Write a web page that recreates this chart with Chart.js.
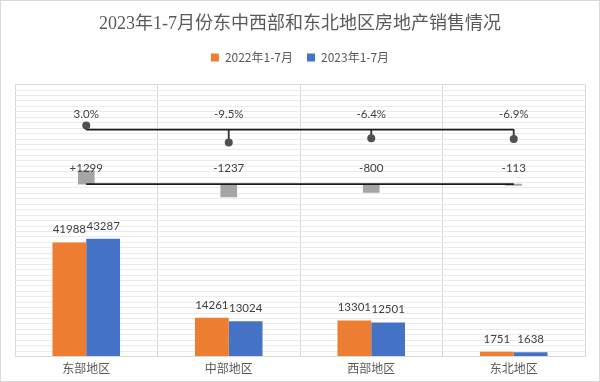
<!DOCTYPE html>
<html>
<head>
<meta charset="utf-8">
<script src="https://cdn.jsdelivr.net/npm/chart.js@4.4.1/dist/chart.umd.min.js"></script>
<style>
  html, body { margin: 0; padding: 0; background: #fff; }
  #wrap { width: 600px; height: 382px; position: relative; }
</style>
</head>
<body>
<div id="wrap"><canvas id="c" width="600" height="382"></canvas></div>
<script>
// ---- data ----
const categories = ['东部地区', '中部地区', '西部地区', '东北地区'];
const seriesNames = ['2022年1-7月', '2023年1-7月'];
const sales2022 = [41988, 14261, 13301, 1751];
const sales2023 = [43287, 13024, 12501, 1638];
const growthPct = [3.0, -9.5, -6.4, -6.9];
const diffValues = [1299, -1237, -800, -113];

const titleText = '2023年1-7月份东中西部和东北地区房地产销售情况';

const ORANGE = '#ED7D31';
const BLUE = '#4472C4';
const GREY_BAR = '#A5A5A5';
const LABEL_FONT = '11.5px Lato, "Noto Sans CJK SC", sans-serif';

const framePlugin = {
  id: 'frame',
  afterInit(chart) {
    // add extra space below the legend, like the reference layout
    const lg = chart.legend;
    if (lg && !lg._patched) {
      const origFit = lg.fit;
      lg.fit = function () { origFit.call(this); this.height += 11; };
      lg._patched = true;
    }
  },
  beforeDraw(chart) {
    const ctx = chart.ctx;
    ctx.save();
    ctx.fillStyle = '#ffffff';
    ctx.fillRect(0, 0, chart.width, chart.height);
    ctx.strokeStyle = '#d9d9d9';
    ctx.lineWidth = 1;
    ctx.strokeRect(0.5, 0.5, chart.width - 1, chart.height - 1);
    ctx.restore();
  }
};

const labelPlugin = {
  id: 'valueLabels',
  afterDatasetsDraw(chart) {
    const ctx = chart.ctx;
    ctx.save();
    ctx.font = LABEL_FONT;
    ctx.fillStyle = '#404040';
    ctx.textAlign = 'center';
    ctx.textBaseline = 'middle';
    [0, 1].forEach(di => {
      const meta = chart.getDatasetMeta(di);
      const vals = chart.data.datasets[di].data;
      meta.data.forEach((bar, i) => {
        ctx.fillText(String(vals[i]), bar.x, bar.y - 13);
      });
    });
    const xs = chart.scales.x;
    const yPct0 = chart.scales.y2.getPixelForValue(0);
    const yDiff0 = chart.scales.y3.getPixelForValue(0);
    growthPct.forEach((v, i) => {
      ctx.fillText(v.toFixed(1) + '%', xs.getPixelForValue(i), yPct0 - 15.5);
    });
    diffValues.forEach((v, i) => {
      ctx.fillText((v > 0 ? '+' : '') + v, xs.getPixelForValue(i), yDiff0 - 16);
    });
    ctx.restore();
  }
};

const chart = new Chart(document.getElementById('c'), {
  type: 'bar',
  data: {
    labels: categories,
    datasets: [
      { label: seriesNames[0], data: sales2022, backgroundColor: ORANGE, yAxisID: 'y',
        categoryPercentage: 0.474, barPercentage: 1.0, order: 5 },
      { label: seriesNames[1], data: sales2023, backgroundColor: BLUE, yAxisID: 'y',
        categoryPercentage: 0.474, barPercentage: 1.0, order: 5 },
      { type: 'bar', label: '', data: diffValues, backgroundColor: GREY_BAR, yAxisID: 'y3',
        grouped: false, categoryPercentage: 1, barPercentage: 1, maxBarThickness: 16, order: 4 },
      { type: 'line', label: '', data: diffValues.map(() => 0), yAxisID: 'y3',
        borderColor: '#1a1a1a', borderWidth: 1.6, pointRadius: 0, fill: false, order: 1 },
      { type: 'bar', label: '', data: growthPct.map(v => [0, v]), backgroundColor: '#404040', yAxisID: 'y2',
        grouped: false, categoryPercentage: 1, barPercentage: 1, maxBarThickness: 1.3, order: 3 },
      { type: 'line', label: '', data: growthPct.map(() => 0), yAxisID: 'y2',
        borderColor: '#1a1a1a', borderWidth: 1.6, pointRadius: 0, fill: false, order: 2 },
      { type: 'line', label: '', data: growthPct, yAxisID: 'y2', showLine: false,
        pointRadius: 4, pointBackgroundColor: '#505050', pointBorderColor: '#505050', pointBorderWidth: 0, order: 0 }
    ]
  },
  options: {
    responsive: false,
    animation: false,
    layout: { padding: { left: 15, right: 15, top: 0, bottom: 1 } },
    plugins: {
      tooltip: { enabled: false },
      title: {
        display: true,
        text: titleText,
        color: '#595959',
        font: { size: 18, weight: 'normal', family: '"Liberation Serif", "Noto Sans CJK SC", serif' },
        padding: { top: 13, bottom: 3 }
      },
      legend: {
        display: true,
        position: 'top',
        labels: {
          filter: item => item.datasetIndex < 2,
          boxWidth: 8,
          boxHeight: 8,
          padding: 14,
          color: '#595959',
          font: { size: 12, family: '"Noto Sans CJK SC", sans-serif' }
        }
      }
    },
    scales: {
      x: {
        type: 'category',
        offset: true,
        grid: { color: '#d9d9d9', drawTicks: false, offset: true },
        border: { color: '#d9d9d9' },
        ticks: { color: '#595959', padding: 5, font: { size: 12, family: '"Noto Sans CJK SC", sans-serif' } }
      },
      y: {
        min: 0, max: 100000,
        ticks: { display: false, stepSize: 2000, maxTicksLimit: 100 },
        grid: {
          drawTicks: false,
          color: c => (c.tick && c.tick.value === 100000) ? '#d9d9d9' : '#ebebeb'
        },
        border: { display: false }
      },
      y2: { min: -166.7, max: 33.1, display: false },
      y3: { min: -16640, max: 9608, display: false }
    }
  },
  plugins: [framePlugin, labelPlugin]
});
</script>
</body>
</html>
